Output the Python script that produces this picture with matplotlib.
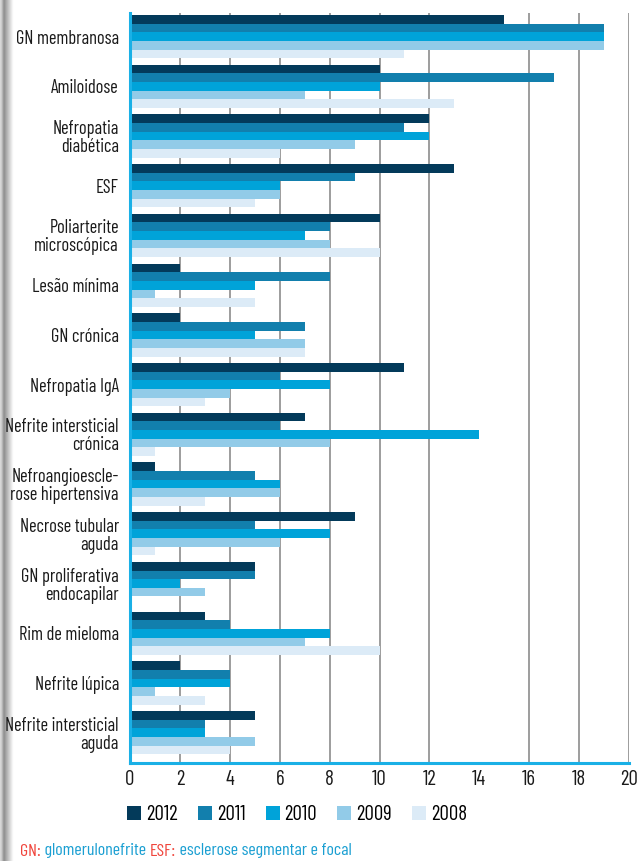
import matplotlib
matplotlib.use("Agg")
import matplotlib.pyplot as plt
import numpy as np
from matplotlib import font_manager

categories = ["GN membranosa", "Amiloidose", "Nefropatia\ndiabética", "ESF",
              "Poliarterite\nmicroscópica", "Lesão mínima", "GN crónica",
              "Nefropatia IgA", "Nefrite intersticial\ncrónica",
              "Nefroangioescle-\nrose hipertensiva", "Necrose tubular\naguda",
              "GN proliferativa\nendocapilar", "Rim de mieloma", "Nefrite lúpica",
              "Nefrite intersticial\naguda"]
years = ["2012", "2011", "2010", "2009", "2008"]
v2012 = [15, 10, 12, 13, 10, 2, 2, 11, 7, 1, 9, 5, 3, 2, 5]
v2011 = [19, 17, 11, 9, 8, 8, 7, 6, 6, 5, 5, 5, 4, 4, 3]
v2010 = [19, 10, 12, 6, 7, 5, 5, 8, 14, 6, 8, 2, 8, 4, 3]
v2009 = [19, 7, 9, 6, 8, 1, 7, 4, 8, 6, 6, 3, 7, 1, 5]
v2008 = [11, 13, 6, 5, 10, 5, 7, 3, 1, 3, 1, 0, 10, 3, 4]
series = [v2012, v2011, v2010, v2009, v2008]
colors = ["#033a5a", "#127fad", "#00a3d9", "#92cbe8", "#dcebf7"]
xticks = list(range(0, 21, 2))

# choose a condensed font that is installed
avail = {f.name for f in font_manager.fontManager.ttflist}
prefs = ["Barlow Condensed", "Roboto Condensed", "PT Sans Narrow", "Encode Sans Condensed",
         "Asap Condensed", "Fira Sans Condensed", "Open Sans Condensed",
         "IBM Plex Sans Condensed", "Archivo Narrow", "Barlow Semi Condensed", "DejaVu Sans"]
fam = next(p for p in prefs if p in avail)
plt.rcParams["font.family"] = [fam, "DejaVu Sans"]

W, H = 638, 861
DPI = 100
fig = plt.figure(figsize=(W / DPI, H / DPI), dpi=DPI)
fig.canvas.draw()
r = fig.canvas.get_renderer()


def width_px(s, size):
    t = fig.text(0, 0, s, fontsize=size)
    w = t.get_window_extent(renderer=r).width
    t.remove()
    return w


# fit font sizes to the widths measured on the reference
fs = 12.0 * 114 / width_px("Nefrite intersticial", 12.0)
fs = min(max(fs, 9), 15)
tfs = min(max(12.0 * 15 / width_px("10", 12.0), 9), 15)
lfs = min(max(12.0 * 32 / width_px("2012", 12.0), 9), 15)

# grey strip on the left
sax = fig.add_axes([0, 0, 14 / W, 1])
xs = np.linspace(0, 14, 60)
vals = np.interp(xs, [0, 1.5, 4, 8, 13, 14], [0.86, 0.8, 0.55, 0.75, 0.98, 1.0])
sax.imshow(vals.reshape(1, -1), aspect="auto", cmap="gray", vmin=0, vmax=1,
           extent=[0, 1, 0, 1], interpolation="bilinear")
sax.axis("off")

ax = fig.add_axes([130 / W, 1 - 763 / H, (629 - 130) / W, (763 - 12.7) / H])
n = len(categories)
bh = 0.174
y = np.arange(n)
for i, (vals_, c, yr) in enumerate(zip(series, colors, years)):
    ax.barh(y - 2 * bh + i * bh, vals_, height=bh, color=c, label=yr, zorder=2)

ax.set_ylim(n - 1 + 0.61, -0.48)
ax.set_xlim(0, 20)
ax.set_xticks(xticks)
ax.set_xticklabels([str(t) for t in xticks], fontsize=tfs, color="#1a1a1a")
ax.set_yticks(y)
ax.set_yticklabels(categories, fontsize=fs, color="#1a1a1a", linespacing=1.0)
ax.tick_params(axis="x", length=0, pad=5)
ax.tick_params(axis="y", length=0, pad=8)
ax.grid(axis="x", color="#8c8c8c", linewidth=1.2, zorder=0)
ax.grid(axis="y", visible=False)
ax.set_axisbelow(True)
gl = ax.xaxis.get_gridlines()
gl[7].set_visible(False)
for s in ["top", "right"]:
    ax.spines[s].set_visible(False)
for s in ["left", "bottom"]:
    ax.spines[s].set_color("#1ab0e6")
    ax.spines[s].set_linewidth(2.2)
    ax.spines[s].set_zorder(3)

handles, labels = ax.get_legend_handles_labels()
px_per_fs = lfs * DPI / 72
fig.legend(handles, labels, loc="center", bbox_to_anchor=(297 / W, 1 - 815 / H),
           ncol=5, frameon=False, fontsize=lfs, handlelength=14 / px_per_fs,
           handleheight=13 / px_per_fs, handletextpad=5 / px_per_fs,
           columnspacing=20 / px_per_fs, borderpad=0, borderaxespad=0)

# footnote with coloured pieces
red, blue = "#f0453c", "#1a9fd2"
pieces = [("GN:", red), (" glomerulonefrite ", blue), ("ESF:", red),
          (" esclerose segmentar e focal", blue)]
full = "".join(p[0] for p in pieces)
ffs = fs * 332 / width_px(full, fs)
x = 20
for txt, col in pieces:
    t = fig.text(x / W, 1 - 851 / H, txt, color=col, fontsize=ffs, va="center", ha="left")
    x += t.get_window_extent(renderer=r).width

fig.savefig("out.png", dpi=DPI)
